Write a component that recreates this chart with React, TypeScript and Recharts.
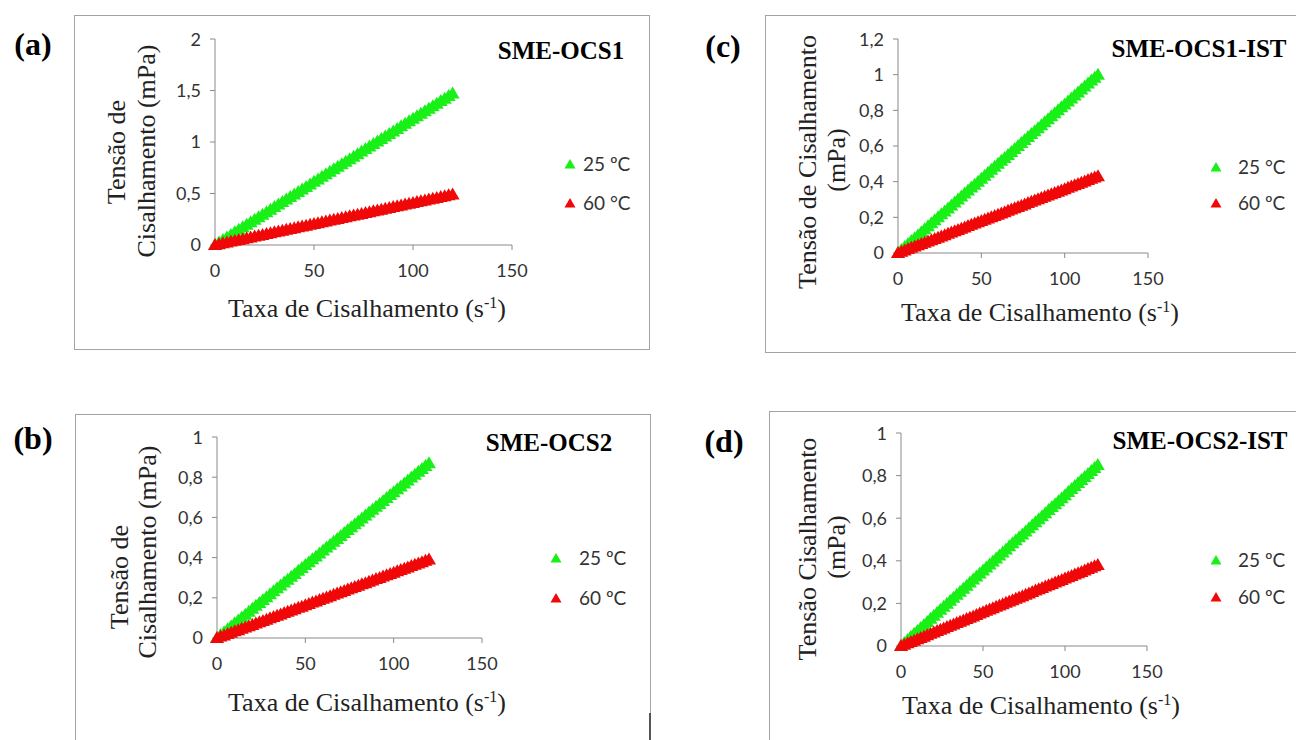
import React from "react";
import { ScatterChart, Scatter, XAxis, YAxis } from "recharts";

// shear rate (s-1), shared by every series
const X_RATE = [
  0, 2, 4, 6, 8, 10, 12, 14, 16, 18, 20, 22, 24, 26, 28, 30, 32, 34, 36, 38, 40,
  42, 44, 46, 48, 50, 52, 54, 56, 58, 60, 62, 64, 66, 68, 70, 72, 74, 76, 78, 80,
  82, 84, 86, 88, 90, 92, 94, 96, 98, 100, 102, 104, 106, 108, 110, 112, 114, 116, 118, 120,
];
const X_TICKS = [0, 50, 100, 150];

// shear stress (mPa)
const OCS1_25 = [
  0, 0.025, 0.049, 0.074, 0.098, 0.123, 0.147, 0.172, 0.196, 0.221, 0.245, 0.27, 0.294, 0.319, 0.343, 0.368, 0.392, 0.417, 0.441, 0.466, 0.49,
  0.515, 0.539, 0.564, 0.588, 0.613, 0.637, 0.662, 0.686, 0.711, 0.735, 0.76, 0.784, 0.809, 0.833, 0.858, 0.882, 0.907, 0.931, 0.956, 0.98,
  1.005, 1.029, 1.054, 1.078, 1.103, 1.127, 1.152, 1.176, 1.201, 1.225, 1.25, 1.274, 1.299, 1.323, 1.348, 1.372, 1.397, 1.421, 1.446, 1.47,
];
const OCS1_60 = [
  0, 0.008, 0.016, 0.025, 0.033, 0.041, 0.049, 0.057, 0.065, 0.074, 0.082, 0.09, 0.098, 0.106, 0.114, 0.123, 0.131, 0.139, 0.147, 0.155, 0.163,
  0.172, 0.18, 0.188, 0.196, 0.204, 0.212, 0.221, 0.229, 0.237, 0.245, 0.253, 0.261, 0.27, 0.278, 0.286, 0.294, 0.302, 0.31, 0.319, 0.327,
  0.335, 0.343, 0.351, 0.359, 0.368, 0.376, 0.384, 0.392, 0.4, 0.408, 0.417, 0.425, 0.433, 0.441, 0.449, 0.457, 0.466, 0.474, 0.482, 0.49,
];
const OCS2_25 = [
  0, 0.015, 0.029, 0.044, 0.058, 0.073, 0.087, 0.102, 0.116, 0.131, 0.145, 0.16, 0.174, 0.189, 0.203, 0.218, 0.232, 0.247, 0.261, 0.276, 0.29,
  0.305, 0.319, 0.334, 0.348, 0.363, 0.377, 0.392, 0.406, 0.421, 0.435, 0.45, 0.464, 0.479, 0.493, 0.508, 0.522, 0.537, 0.551, 0.566, 0.58,
  0.595, 0.609, 0.624, 0.638, 0.653, 0.667, 0.682, 0.696, 0.711, 0.725, 0.74, 0.754, 0.769, 0.783, 0.798, 0.812, 0.827, 0.841, 0.856, 0.87,
];
const OCS2_60 = [
  0, 0.007, 0.013, 0.02, 0.026, 0.033, 0.039, 0.046, 0.052, 0.059, 0.065, 0.072, 0.078, 0.085, 0.091, 0.098, 0.104, 0.111, 0.117, 0.124, 0.13,
  0.137, 0.143, 0.15, 0.156, 0.163, 0.169, 0.176, 0.182, 0.189, 0.195, 0.202, 0.208, 0.215, 0.221, 0.228, 0.234, 0.241, 0.247, 0.254, 0.26,
  0.267, 0.273, 0.28, 0.286, 0.293, 0.299, 0.306, 0.312, 0.319, 0.325, 0.332, 0.338, 0.345, 0.351, 0.358, 0.364, 0.371, 0.377, 0.384, 0.39,
];
const OCS1_IST_25 = [
  0, 0.017, 0.033, 0.05, 0.067, 0.083, 0.1, 0.117, 0.133, 0.15, 0.167, 0.183, 0.2, 0.217, 0.233, 0.25, 0.267, 0.283, 0.3, 0.317, 0.333,
  0.35, 0.367, 0.383, 0.4, 0.417, 0.433, 0.45, 0.467, 0.483, 0.5, 0.517, 0.533, 0.55, 0.567, 0.583, 0.6, 0.617, 0.633, 0.65, 0.667,
  0.683, 0.7, 0.717, 0.733, 0.75, 0.767, 0.783, 0.8, 0.817, 0.833, 0.85, 0.867, 0.883, 0.9, 0.917, 0.933, 0.95, 0.967, 0.983, 1.0,
];
const OCS1_IST_60 = [
  0, 0.007, 0.014, 0.022, 0.029, 0.036, 0.043, 0.05, 0.057, 0.065, 0.072, 0.079, 0.086, 0.093, 0.1, 0.108, 0.115, 0.122, 0.129, 0.136, 0.143,
  0.151, 0.158, 0.165, 0.172, 0.179, 0.186, 0.194, 0.201, 0.208, 0.215, 0.222, 0.229, 0.237, 0.244, 0.251, 0.258, 0.265, 0.272, 0.28, 0.287,
  0.294, 0.301, 0.308, 0.315, 0.323, 0.33, 0.337, 0.344, 0.351, 0.358, 0.366, 0.373, 0.38, 0.387, 0.394, 0.401, 0.409, 0.416, 0.423, 0.43,
];
const OCS2_IST_25 = [
  0, 0.014, 0.028, 0.043, 0.057, 0.071, 0.085, 0.099, 0.113, 0.128, 0.142, 0.156, 0.17, 0.184, 0.198, 0.213, 0.227, 0.241, 0.255, 0.269, 0.283,
  0.298, 0.312, 0.326, 0.34, 0.354, 0.368, 0.383, 0.397, 0.411, 0.425, 0.439, 0.453, 0.468, 0.482, 0.496, 0.51, 0.524, 0.538, 0.553, 0.567,
  0.581, 0.595, 0.609, 0.623, 0.638, 0.652, 0.666, 0.68, 0.694, 0.708, 0.723, 0.737, 0.751, 0.765, 0.779, 0.793, 0.808, 0.822, 0.836, 0.85,
];
const OCS2_IST_60 = [
  0, 0.006, 0.013, 0.019, 0.025, 0.032, 0.038, 0.044, 0.051, 0.057, 0.063, 0.07, 0.076, 0.082, 0.089, 0.095, 0.101, 0.108, 0.114, 0.12, 0.127,
  0.133, 0.139, 0.146, 0.152, 0.158, 0.165, 0.171, 0.177, 0.184, 0.19, 0.196, 0.203, 0.209, 0.215, 0.222, 0.228, 0.234, 0.241, 0.247, 0.253,
  0.26, 0.266, 0.272, 0.279, 0.285, 0.291, 0.298, 0.304, 0.31, 0.317, 0.323, 0.329, 0.336, 0.342, 0.348, 0.355, 0.361, 0.367, 0.374, 0.38,
];

const GREEN = "#18f018";
const RED = "#f00808";
const AXIS = "#8a8a8a";
const SERIF = "'Liberation Serif', 'Times New Roman', serif";
const SANS = "Lato, 'Open Sans', sans-serif";

const toPoints = (vals: number[]) => X_RATE.map((x, i) => ({ x, y: vals[i] }));
const comma = (v: number) => String(v).replace(".", ",");

const triangle = (color: string) => (props: any) => {
  const { cx, cy } = props;
  return (
    <polygon
      points={`${cx},${cy - 7} ${cx + 7},${cy + 5} ${cx - 7},${cy + 5}`}
      fill={color}
    />
  );
};

const PANELS = [
  {
    tag: "(a)", tagAt: [33, 44], title: "SME-OCS1", titleAt: [561, 50],
    box: { left: 74, top: 15, width: 576, height: 335 },
    x0: 215, x150: 512, y0: 245, yTop: 39, yMax: 2, yTicks: [0, 0.5, 1, 1.5, 2],
    hot: OCS1_60, cold: OCS1_25,
    legend: ["25 ºC", "60 °C"], legAt: [570, 164, 203], legText: 583,
    xTitleAt: [367, 308],
    yLab: [["Tensão de", 117, 152], ["Cisalhamento (mPa)", 147, 151]],
  },
  {
    tag: "(c)", tagAt: [723, 46], title: "SME-OCS1-IST", titleAt: [1199, 48],
    box: { left: 765, top: 15, width: 560, height: 338 },
    x0: 898, x150: 1148, y0: 253, yTop: 39, yMax: 1.2, yTicks: [0, 0.2, 0.4, 0.6, 0.8, 1, 1.2],
    hot: OCS1_IST_60, cold: OCS1_IST_25,
    legend: ["25 °C", "60 ºC"], legAt: [1216, 167, 203], legText: 1238,
    xTitleAt: [1040, 312],
    yLab: [["Tensão de Cisalhamento", 808, 162], ["(mPa)", 837, 160]],
  },
  {
    tag: "(b)", tagAt: [33, 438], title: "SME-OCS2", titleAt: [549, 442],
    box: { left: 75, top: 414, width: 576, height: 400 },
    x0: 217, x150: 482, y0: 638, yTop: 437, yMax: 1, yTicks: [0, 0.2, 0.4, 0.6, 0.8, 1],
    hot: OCS2_60, cold: OCS2_25,
    legend: ["25 ºC", "60 ºC"], legAt: [556, 558, 598], legText: 579,
    xTitleAt: [367, 702],
    yLab: [["Tensão de", 120, 577], ["Cisalhamento (mPa)", 148, 552]],
  },
  {
    tag: "(d)", tagAt: [724, 441], title: "SME-OCS2-IST", titleAt: [1200, 440],
    box: { left: 769, top: 411, width: 560, height: 400 },
    x0: 901, x150: 1147, y0: 646, yTop: 433, yMax: 1, yTicks: [0, 0.2, 0.4, 0.6, 0.8, 1],
    hot: OCS2_IST_60, cold: OCS2_IST_25,
    legend: ["25 ºC", "60 ºC"], legAt: [1216, 560, 597], legText: 1238,
    xTitleAt: [1041, 705],
    yLab: [["Tensão Cisalhamento", 808, 549], ["(mPa)", 837, 547]],
  },
];

const centered = (x: number, y: number, extra: React.CSSProperties = {}): React.CSSProperties => ({
  position: "absolute",
  left: x,
  top: y,
  transform: "translate(-50%, -50%)",
  whiteSpace: "nowrap",
  lineHeight: 1,
  ...extra,
});

function LegendTri({ x, y, color }: { x: number; y: number; color: string }) {
  return (
    <svg style={{ position: "absolute", left: x - 6, top: y - 6 }} width={12} height={12}>
      <polygon points="6,1 11.5,10.5 0.5,10.5" fill={color} />
    </svg>
  );
}

function Panel({ p }: { p: (typeof PANELS)[number] }) {
  const ML = 60, MT = 10, MR = 26, MB = 44;
  const plotW = p.x150 - p.x0;
  const plotH = p.y0 - p.yTop;
  const tick = { fill: "#333", fontSize: 18, fontFamily: SANS };
  return (
    <>
      <div
        style={{
          position: "absolute",
          ...p.box,
          border: "1.5px solid #a3a3a3",
          boxSizing: "border-box",
        }}
      />
      <div style={{ position: "absolute", left: p.x0 - ML, top: p.yTop - MT }}>
        <ScatterChart
          width={plotW + ML + MR}
          height={plotH + MT + MB}
          margin={{ top: MT, right: MR, bottom: 0, left: 0 }}
        >
          <XAxis
            type="number"
            dataKey="x"
            domain={[0, 150]}
            ticks={X_TICKS}
            height={MB}
            stroke={AXIS}
            tickSize={5}
            tickMargin={14}
            tick={tick}
          />
          <YAxis
            type="number"
            dataKey="y"
            domain={[0, p.yMax]}
            ticks={p.yTicks}
            width={ML}
            stroke={AXIS}
            tickSize={5}
            tickMargin={9}
            tick={tick}
            tickFormatter={comma}
          />
          <Scatter data={toPoints(p.cold)} shape={triangle(GREEN)} isAnimationActive={false} />
          <Scatter data={toPoints(p.hot)} shape={triangle(RED)} isAnimationActive={false} />
        </ScatterChart>
      </div>
      <div style={centered(p.tagAt[0], p.tagAt[1], { fontFamily: SERIF, fontWeight: 700, fontSize: 32 })}>
        {p.tag}
      </div>
      <div style={centered(p.titleAt[0], p.titleAt[1], { fontFamily: SERIF, fontWeight: 700, fontSize: 25 })}>
        {p.title}
      </div>
      <div style={centered(p.xTitleAt[0], p.xTitleAt[1], { fontFamily: SERIF, fontSize: 26, color: "#222" })}>
        Taxa de Cisalhamento (s<sup style={{ fontSize: 16, verticalAlign: "9px" }}>-1</sup>)
      </div>
      {p.yLab.map(([txt, x, y]) => (
        <div
          key={String(txt)}
          style={centered(x as number, y as number, {
            fontFamily: SERIF,
            fontSize: 26,
            color: "#222",
            transform: "translate(-50%, -50%) rotate(-90deg)",
          })}
        >
          {txt}
        </div>
      ))}
      <LegendTri x={p.legAt[0]} y={p.legAt[1]} color={GREEN} />
      <LegendTri x={p.legAt[0]} y={p.legAt[2]} color={RED} />
      {p.legend.map((txt, i) => (
        <div
          key={txt + i}
          style={{
            position: "absolute",
            left: p.legText,
            top: p.legAt[1 + i] - 11,
            fontFamily: SANS,
            fontSize: 19,
            lineHeight: "22px",
            color: "#333",
            whiteSpace: "nowrap",
          }}
        >
          {txt}
        </div>
      ))}
    </>
  );
}

export default function App() {
  return (
    <div
      style={{
        position: "absolute",
        left: 0,
        top: 0,
        width: 1296,
        height: 740,
        background: "#fff",
        overflow: "hidden",
      }}
    >
      {PANELS.map((p) => (
        <Panel key={p.tag} p={p} />
      ))}
      <div style={{ position: "absolute", left: 649, top: 713, width: 2, height: 27, background: "#555" }} />
    </div>
  );
}
